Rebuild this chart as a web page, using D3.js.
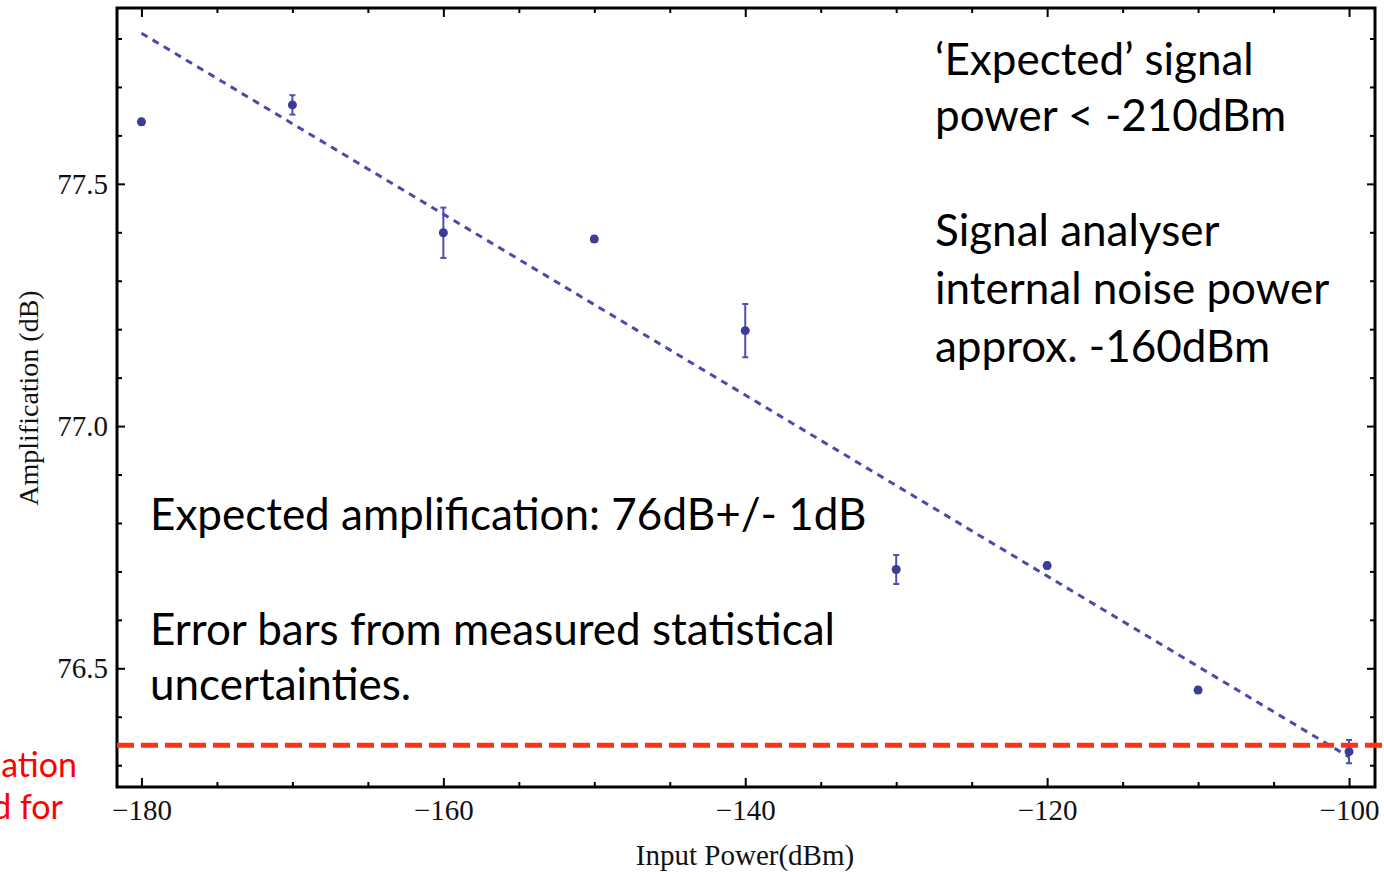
<!DOCTYPE html>
<html>
<head>
<meta charset="utf-8">
<script src="https://cdn.jsdelivr.net/npm/d3@7"></script>
<style>
  html, body { margin: 0; padding: 0; background: #fff; }
  svg { display: block; }
</style>
</head>
<body>
<svg id="chart"></svg>
<script>
// measured points (input power in dBm, amplification in dB, +/- error)
const inputPower = [-180, -170, -160, -150, -140, -130, -120, -110, -100];
const amplification = [77.628, 77.663, 77.399, 77.386, 77.197, 76.704, 76.712, 76.455, 76.328];
const amplErr = [0.006, 0.02, 0.052, 0.006, 0.055, 0.03, 0.006, 0.006, 0.024];

// dotted fit line end points
const fitPower = [-180, -100];
const fitAmp = [77.811, 76.317];

// red dashed threshold
const thresholdAmp = 76.341;

const xTickLabels = [-180, -160, -140, -120, -100];
const yTickLabels = [76.5, 77.0, 77.5];

const notesRight1 = ["\u2018Expected\u2019 signal", "power < -210dBm"];
const notesRight2 = ["Signal analyser", "internal noise power", "approx. -160dBm"];
const noteMid = ["Expected amplification: 76dB+/- 1dB"];
const notesLow = ["Error bars from measured statistical", "uncertainties."];
const redNotes = ["ation", "d for"];

const svgW = 1384, svgH = 872;
const frame = { left: 117, right: 1375, top: 8, bottom: 787 };

const root = d3.select("#chart").attr("width", svgW).attr("height", svgH);
root.append("rect").attr("width", svgW).attr("height", svgH).attr("fill", "#fff");

const x = d3.scaleLinear().domain([-181.62, -98.28]).range([frame.left, frame.right]);
const y = d3.scaleLinear().domain([76.255, 77.863]).range([frame.bottom, frame.top]);

const serif = "'Liberation Serif', 'Times New Roman', serif";
const sans = "Lato, 'Open Sans', sans-serif";

const xMinor = d3.range(-180, -98, 5).filter(v => v % 20 !== 0);
const yMinor = d3.range(76.3, 77.85, 0.1).map(v => +v.toFixed(1)).filter(v => Math.abs(v * 2 - Math.round(v * 2)) > 1e-6);

function styleAxis(g) {
  g.select(".domain").remove();
  g.selectAll(".tick line").attr("stroke", "#000").attr("stroke-width", 2);
  g.selectAll(".tick text")
    .style("font-family", serif)
    .style("font-size", "29px")
    .attr("fill", "#111");
}

// bottom
root.append("g").attr("transform", `translate(0,${frame.bottom})`)
  .call(d3.axisBottom(x).tickValues(xTickLabels).tickSizeInner(-9).tickSizeOuter(0).tickPadding(12))
  .call(styleAxis);
root.append("g").attr("transform", `translate(0,${frame.bottom})`)
  .call(d3.axisBottom(x).tickValues(xMinor).tickFormat("").tickSizeInner(-5).tickSizeOuter(0))
  .call(styleAxis);
// top
root.append("g").attr("transform", `translate(0,${frame.top})`)
  .call(d3.axisTop(x).tickValues(xTickLabels).tickFormat("").tickSizeInner(-9).tickSizeOuter(0))
  .call(styleAxis);
root.append("g").attr("transform", `translate(0,${frame.top})`)
  .call(d3.axisTop(x).tickValues(xMinor).tickFormat("").tickSizeInner(-5).tickSizeOuter(0))
  .call(styleAxis);
// left
root.append("g").attr("transform", `translate(${frame.left},0)`)
  .call(d3.axisLeft(y).tickValues(yTickLabels).tickFormat(d3.format(".1f")).tickSizeInner(-8).tickSizeOuter(0).tickPadding(9))
  .call(styleAxis);
root.append("g").attr("transform", `translate(${frame.left},0)`)
  .call(d3.axisLeft(y).tickValues(yMinor).tickFormat("").tickSizeInner(-5).tickSizeOuter(0))
  .call(styleAxis);
// right
root.append("g").attr("transform", `translate(${frame.right},0)`)
  .call(d3.axisRight(y).tickValues(yTickLabels).tickFormat("").tickSizeInner(-8).tickSizeOuter(0))
  .call(styleAxis);
root.append("g").attr("transform", `translate(${frame.right},0)`)
  .call(d3.axisRight(y).tickValues(yMinor).tickFormat("").tickSizeInner(-5).tickSizeOuter(0))
  .call(styleAxis);

// frame
root.append("rect")
  .attr("x", frame.left).attr("y", frame.top)
  .attr("width", frame.right - frame.left).attr("height", frame.bottom - frame.top)
  .attr("fill", "none").attr("stroke", "#000").attr("stroke-width", 3);

// axis titles
root.append("text")
  .attr("x", 745).attr("y", 865)
  .attr("text-anchor", "middle")
  .style("font-family", serif).style("font-size", "29px").attr("fill", "#111")
  .text("Input Power(dBm)");

root.append("text")
  .attr("transform", "translate(38,398) rotate(-90)")
  .attr("text-anchor", "middle")
  .style("font-family", serif).style("font-size", "28px").attr("fill", "#111")
  .text("Amplification (dB)");

// fit line
const fitData = fitPower.map((p, i) => ({ p, a: fitAmp[i] }));
root.append("path")
  .datum(fitData)
  .attr("d", d3.line().x(d => x(d.p)).y(d => y(d.a)))
  .attr("fill", "none")
  .attr("stroke", "#4a4aa8")
  .attr("stroke-width", 3)
  .attr("stroke-dasharray", "7,6");

// error bars + points
const pts = inputPower.map((p, i) => ({ p, a: amplification[i], e: amplErr[i] }));
const eb = root.append("g").attr("stroke", "#4f4fb0").attr("stroke-width", 2);
eb.selectAll("line.err").data(pts).enter().append("line")
  .attr("x1", d => x(d.p)).attr("x2", d => x(d.p))
  .attr("y1", d => y(d.a - d.e)).attr("y2", d => y(d.a + d.e));
eb.selectAll("line.capTop").data(pts).enter().append("line")
  .attr("x1", d => x(d.p) - 3).attr("x2", d => x(d.p) + 3)
  .attr("y1", d => y(d.a + d.e)).attr("y2", d => y(d.a + d.e));
eb.selectAll("line.capBot").data(pts).enter().append("line")
  .attr("x1", d => x(d.p) - 3).attr("x2", d => x(d.p) + 3)
  .attr("y1", d => y(d.a - d.e)).attr("y2", d => y(d.a - d.e));

root.selectAll("circle.pt").data(pts).enter().append("circle")
  .attr("class", "pt")
  .attr("cx", d => x(d.p)).attr("cy", d => y(d.a))
  .attr("r", 4.5)
  .attr("fill", "#3b3b98");

// red threshold line
root.append("line")
  .attr("x1", frame.left).attr("x2", svgW)
  .attr("y1", y(thresholdAmp)).attr("y2", y(thresholdAmp))
  .attr("stroke", "#ff3311")
  .attr("stroke-width", 5)
  .attr("stroke-dasharray", "17,7");

// annotations
function block(lines, x0, y0, step) {
  root.append("g").selectAll("text").data(lines).enter().append("text")
    .attr("x", x0).attr("y", (d, i) => y0 + i * step)
    .style("font-family", sans).style("font-size", "44px").attr("fill", "#000")
    .text(d => d);
}
block(notesRight1, 935, 75, 56);
block(notesRight2, 935, 246, 58);
block(noteMid, 150, 530, 0);
block(notesLow, 150, 645, 55);

root.append("g").selectAll("text").data(redNotes).enter().append("text")
  .attr("x", (d, i) => i === 0 ? 77 : 63)
  .attr("y", (d, i) => 777 + i * 42)
  .attr("text-anchor", "end")
  .style("font-family", sans).style("font-size", "34px").attr("fill", "#ff0000")
  .text(d => d);
</script>
</body>
</html>
